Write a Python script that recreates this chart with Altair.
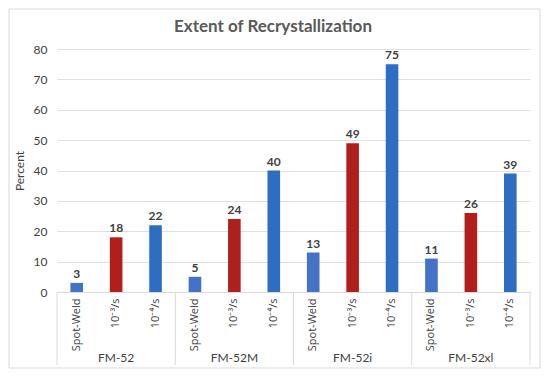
import altair as alt
import pandas as pd

groups = ["FM-52", "FM-52M", "FM-52i", "FM-52xl"]
conditions = ["Spot-Weld", "10⁻³/s", "10⁻⁴/s"]
values = {
    "FM-52": [3, 18, 22],
    "FM-52M": [5, 24, 40],
    "FM-52i": [13, 49, 75],
    "FM-52xl": [11, 26, 39],
}
colors = ["#4472C4", "#B01F1C", "#2E6EC2"]

rows = []
for g in groups:
    for c, v in zip(conditions, values[g]):
        rows.append({"group": g, "cond": c, "key": f"{g}|{c}", "value": v})
df = pd.DataFrame(rows)
order = list(df["key"])

W, H = 473, 243
xs = alt.Scale(domain=order, paddingInner=0, paddingOuter=0)
font = "Lato"
tc = "#404040"

x_enc = alt.X("key:N", scale=xs, sort=order, title=None,
              axis=alt.Axis(labelExpr="split(datum.label, '|')[1]", labelAngle=270,
                            labelPadding=6, ticks=False, domainColor="#d9d9d9",
                            labelColor=tc, labelFontSize=11, labelFont="Open Sans"))

y_enc = alt.Y("value:Q", scale=alt.Scale(domain=[0, 80]),
              axis=alt.Axis(values=list(range(0, 81, 10)), title="Percent", grid=True,
                            labelOverlap=False,
                            gridColor="#e0e0e0", domain=False, ticks=False, labelPadding=10,
                            labelColor=tc, labelFontSize=12, labelFont=font,
                            titleColor=tc, titleFontSize=12, titleFont=font,
                            titleFontWeight="normal", titlePadding=7))

bars = alt.Chart(df).mark_bar(width=alt.RelativeBandSize(0.32)).encode(
    x=x_enc,
    y=y_enc,
    color=alt.Color("cond:N", scale=alt.Scale(domain=conditions, range=colors), legend=None),
)

labels = alt.Chart(df).mark_text(dy=-9, fontWeight="bold", fontSize=12, font=font,
                                 color="#404040").encode(
    x=x_enc, y=y_enc, text="value:Q")

gdf = pd.DataFrame({"group": groups,
                    "mid": [f"{g}|{conditions[1]}" for g in groups],
                    "first": [f"{g}|{conditions[0]}" for g in groups]})

glabels = alt.Chart(gdf).mark_text(fontSize=12, font=font,
                                   color="#404040").encode(
    x=alt.X("mid:N", scale=xs, sort=order), y=alt.value(H + 66), text="group:N")

dividers = alt.Chart(gdf).mark_rule(color="#d9d9d9").encode(
    x=alt.X("first:N", scale=xs, sort=order, bandPosition=0),
    y=alt.value(H), y2=alt.value(H + 73))

ldf = pd.DataFrame({"last": [order[-1]]})
last_div = alt.Chart(ldf).mark_rule(color="#d9d9d9").encode(
    x=alt.X("last:N", scale=xs, sort=order, bandPosition=1),
    y=alt.value(H), y2=alt.value(H + 73))

tdf = pd.DataFrame({"t": ["Extent of Recrystallization"]})
title = alt.Chart(tdf).mark_text(fontSize=17, fontWeight="bold", font=font,
                                 color="#595959").encode(
    x=alt.value(216), y=alt.value(-22), text="t:N")

border = alt.Chart(tdf).mark_rect(fill=None, stroke="#d9d9d9").encode(
    x=alt.value(-48), x2=alt.value(483), y=alt.value(-40), y2=alt.value(319))

chart = alt.layer(bars, labels, glabels, dividers, last_div, title, border).properties(
    width=W, height=H,
    autosize=alt.AutoSizeParams(type="none"),
    padding={"left": 49, "top": 41, "right": 12, "bottom": 78},
).configure_view(stroke=None)

chart.save("out.html", embed_options={"renderer": "svg", "actions": False})
